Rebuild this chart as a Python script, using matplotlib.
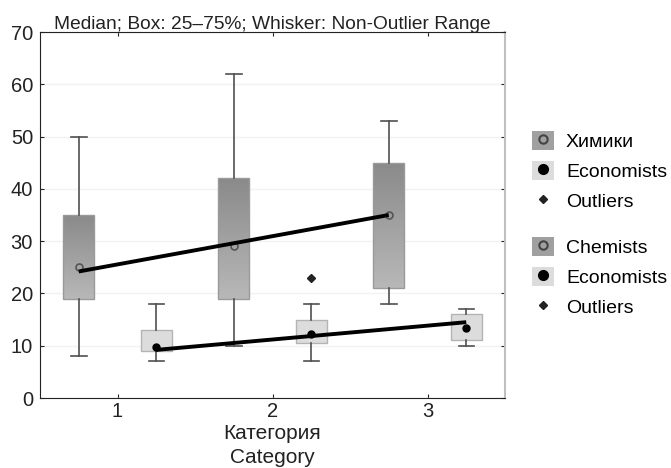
import numpy as np
import matplotlib
matplotlib.use("Agg")
import matplotlib.pyplot as plt
from matplotlib.patches import Patch
from matplotlib.lines import Line2D
from matplotlib.legend_handler import HandlerTuple
from matplotlib.colors import LinearSegmentedColormap

plt.rcParams['font.family'] = ['Liberation Sans', 'DejaVu Sans']

categories = [1, 2, 3]
tick_labels = ["1", "2", "3"]

# Chemists
chem_whislo = [8, 10, 18]
chem_q1 = [19, 19, 21]
chem_med = [25, 29, 35]
chem_q3 = [35, 42, 45]
chem_whishi = [50, 62, 53]
chem_fliers = [[], [], []]
chem_trend = [24.2, 35.0]

# Economists
econ_whislo = [7, 7, 10]
econ_q1 = [9, 10.5, 11]
econ_med = [9.8, 12.3, 13.3]
econ_q3 = [13, 15, 16]
econ_whishi = [18, 18, 17]
econ_fliers = [[], [23], []]
econ_trend = [9.2, 14.5]

title = "Median; Box: 25\u201375%; Whisker: Non-Outlier Range"
xlabel = "\u041a\u0430\u0442\u0435\u0433\u043e\u0440\u0438\u044f\nCategory"
legend1 = ["\u0425\u0438\u043c\u0438\u043a\u0438", "Economists", "Outliers"]
legend2 = ["Chemists", "Economists", "Outliers"]

fig = plt.figure(figsize=(6.71, 4.68), dpi=100)
ax = fig.add_axes([40/671, 70/468, 465/671, 366/468])

offset = 0.25
width = 0.2
pos_chem = [c - offset for c in categories]
pos_econ = [c + offset for c in categories]

def stats(lo, q1, med, q3, hi, fl):
    return [dict(whislo=a, q1=b, med=c, q3=d, whishi=e, fliers=f)
            for a, b, c, d, e, f in zip(lo, q1, med, q3, hi, fl)]

common = dict(widths=width, patch_artist=True, showfliers=True,
              whiskerprops=dict(color='#505050', lw=1.2),
              capprops=dict(color='#505050', lw=1.2),
              medianprops=dict(linestyle='none'),
              flierprops=dict(marker='D', markerfacecolor='#222222',
                              markeredgecolor='#222222', markersize=4.5))

bc = ax.bxp(stats(chem_whislo, chem_q1, chem_med, chem_q3, chem_whishi, chem_fliers),
            positions=pos_chem, boxprops=dict(facecolor='none', edgecolor='#9a9a9a', lw=1),
            **common)
be = ax.bxp(stats(econ_whislo, econ_q1, econ_med, econ_q3, econ_whishi, econ_fliers),
            positions=pos_econ, boxprops=dict(facecolor='#dcdcdc', edgecolor='#b4b4b4', lw=1),
            **common)

# gradient fill for chemists boxes
grad = np.linspace(0, 1, 256).reshape(-1, 1)
cmap = LinearSegmentedColormap.from_list('g', ['#8a8a8a', '#b8b8b8'])
for p, q1, q3, box in zip(pos_chem, chem_q1, chem_q3, bc['boxes']):
    im = ax.imshow(grad, cmap=cmap, aspect='auto',
                   extent=[p - width/2, p + width/2, q1, q3], origin='upper', zorder=1.5)
    im.set_clip_path(box)

ax.plot(pos_chem, chem_med, 'o', mfc='none', mec='#555555', mew=1.2, ms=5, zorder=3)
ax.plot(pos_econ, econ_med, 'o', mfc='black', mec='black', ms=5, zorder=3)

ax.plot([pos_chem[0], pos_chem[-1]], chem_trend, color='black', lw=2.8, zorder=4,
        solid_capstyle='butt')
ax.plot([pos_econ[0], pos_econ[-1]], econ_trend, color='black', lw=2.8, zorder=4,
        solid_capstyle='butt')

ax.set_xlim(0.5, 3.5)
ax.set_ylim(0, 70)
ax.set_xticks(categories)
ax.set_xticklabels(tick_labels)
ax.set_yticks(range(0, 71, 10))
ax.yaxis.grid(True, color='#f2f2f2', lw=1)
ax.set_axisbelow(True)
ax.tick_params(direction='in', length=3, labelsize=14.5, colors='#222222',
               top=True, right=True, pad=3)
ax.tick_params(axis='y', pad=5)
for s in ['left', 'bottom', 'top']:
    ax.spines[s].set_color('#222222')
ax.spines['right'].set_color('#c0c0c0')
ax.spines['right'].set_linewidth(1.5)
ax.set_title(title, fontsize=13.8, pad=2, color='#222222')
ax.set_xlabel(xlabel, fontsize=15, labelpad=2, color='#222222', linespacing=1.35)

def handles():
    h1 = (Patch(facecolor='#a0a0a0', edgecolor='none'),
          Line2D([], [], ls='none', marker='o', mfc='none', mec='#444444', mew=1.5, ms=6))
    h2 = (Patch(facecolor='#dcdcdc', edgecolor='none'),
          Line2D([], [], ls='none', marker='o', mfc='black', mec='black', ms=7))
    h3 = Line2D([], [], ls='none', marker='D', mfc='#222222', mec='#222222', ms=4.5)
    return [h1, h2, h3]

legkw = dict(frameon=False, fontsize=14, handlelength=1.15, handleheight=1.15,
             labelspacing=0.5, handletextpad=0.6, borderaxespad=0, borderpad=0,
             handler_map={tuple: HandlerTuple(ndivide=1)}, loc='upper left')
fig.legend(handles(), legend1, bbox_to_anchor=(532/671, 1 - 131/468), **legkw)
fig.legend(handles(), legend2, bbox_to_anchor=(532/671, 1 - 237/468), **legkw)

fig.savefig("out.png", dpi=100)
